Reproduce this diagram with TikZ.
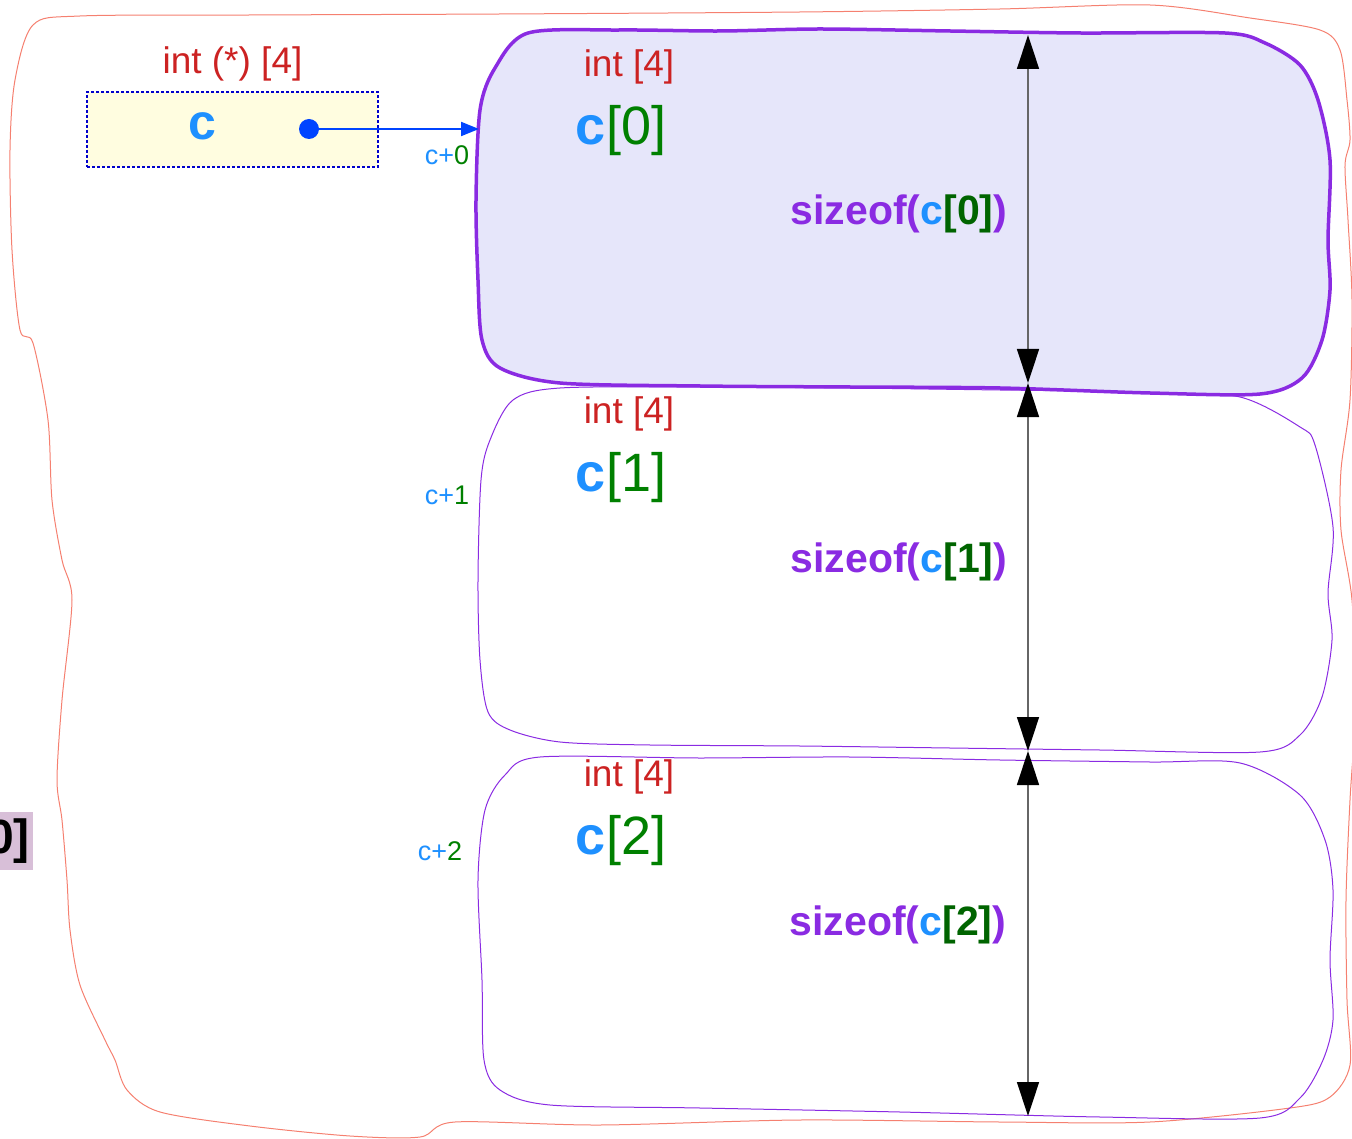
\documentclass[tikz,border=0pt]{standalone}
\usepackage{fontspec}
\setmainfont{Liberation Sans}
\usepackage{xcolor}
\usetikzlibrary{arrows.meta, positioning}

\definecolor{typered}{HTML}{CC2222}
\definecolor{ptrblue}{HTML}{1E90FF}
\definecolor{idxgreen}{HTML}{008000}
\definecolor{idxdark}{HTML}{006400}
\definecolor{rowpurple}{HTML}{8A2BE2}
\definecolor{rowfill}{HTML}{E6E6FA}
\definecolor{outerred}{HTML}{F58070}
\definecolor{boxyellow}{HTML}{FFFDE0}
\definecolor{dotblue}{HTML}{0044FF}
\definecolor{tagfill}{HTML}{D8BFD8}

\newcommand{\fsz}[1]{\fontsize{#1}{#1}\selectfont}
\newcommand{\elemtxt}[1]{\textcolor{ptrblue}{\textbf{c}}\textcolor{idxgreen}{[#1]}}
\newcommand{\offtxt}[1]{\textcolor{ptrblue}{c+}\textcolor{idxgreen}{#1}}
\newcommand{\sizetxt}[1]{\textcolor{rowpurple}{sizeof(}\textcolor{ptrblue}{c}\textcolor{idxdark}{[#1]}\textcolor{rowpurple}{)}}

\begin{document}
\begin{tikzpicture}[
  x=1pt, y=-1pt,
  typelbl/.style={text=typered, font=\fsz{37}, inner sep=0pt},
  elemlbl/.style={font=\fsz{54}, inner sep=0pt},
  sizelbl/.style={font=\bfseries\fsz{41}, inner sep=0pt},
  offlbl/.style={font=\fsz{27}, inner sep=0pt},
  ptrbox/.style={rectangle, draw=blue!80!black, fill=boxyellow, line width=2pt, dash pattern=on 3pt off 2pt, minimum width=291pt, minimum height=75pt},
  rowedge/.style={draw=rowpurple, line width=1pt},
  rowedgebold/.style={draw=rowpurple, fill=rowfill, line width=3.5pt},
  outeredge/.style={draw=outerred, line width=1pt},
  dimarrow/.style={draw=black!60, line width=1.5pt, {Triangle[length=34pt, width=22pt, color=black]}-{Triangle[length=34pt, width=22pt, color=black]}},
  ptrarrow/.style={-{Triangle[length=18pt, width=14pt]}, draw=dotblue, line width=2pt}
]
\useasboundingbox (0,0) rectangle (1352,1139);

% Outlines
\draw[outeredge] plot[smooth cycle, tension=0.5] coordinates {
  (33,25) (80,16) (250,15) (500,14) (800,12) (1000,9) (1150,5) (1250,18)
  (1320,30) (1340,50) (1347,100) (1350,140) (1345,165) (1348,220) (1352,300)
  (1350,400) (1341,470) (1341,530) (1352,600) (1356,700) (1350,800) (1346,900)
  (1347,1000) (1350,1065) (1330,1097) (1290,1108) (1150,1122) (1000,1122)
  (800,1120) (600,1125) (455,1122) (420,1137) (350,1136) (250,1126) (160,1112)
  (127,1090) (115,1060) (105,1040) (80,985) (70,930) (67,880) (62,820) (57,780)
  (62,700) (72,600) (62,560) (52,500) (48,420) (33,343) (20,330) (12,250)
  (10,150) (15,80)};
\draw[rowedge] plot[smooth cycle, tension=0.5] coordinates {
  (540,757) (700,758) (850,757) (1000,760) (1150,762) (1240,763) (1300,795)
  (1325,840) (1333,890) (1330,960) (1333,1020) (1323,1060) (1300,1098)
  (1260,1118) (1100,1117) (900,1112) (700,1108) (550,1105) (500,1090)
  (484,1060) (482,980) (478,880) (485,810) (505,775)};
\draw[rowedge] plot[smooth cycle, tension=0.5] coordinates {
  (560,388) (700,387) (850,388) (1000,390) (1150,392) (1240,397) (1300,427)
  (1315,445) (1333,527) (1328,593) (1332,640) (1322,697) (1300,735)
  (1260,752) (1100,750) (950,748) (800,746) (650,745) (560,742) (510,730)
  (488,712) (480,660) (478,580) (481,480) (490,440) (513,400)};
\draw[rowedgebold] plot[smooth cycle, tension=0.5] coordinates {
  (528,33) (620,30) (720,31) (820,29) (950,31) (1080,33) (1225,33) (1265,43)
  (1300,65) (1318,100) (1330,160) (1328,240) (1330,290) (1322,340) (1302,378)
  (1260,394) (1150,393) (1000,388) (850,387) (700,386) (560,383) (500,368)
  (482,340) (478,280) (476,200) (480,110) (495,68)};

% Nodes
\node[ptrbox] (cptr) at (232.5,129.5) {};
\node[typelbl, above=10pt of cptr] (cptrtype) {int (*) [4]};
\node[font=\bfseries\fsz{50}, text=ptrblue, inner sep=0pt] (cname) at (202,126) {c};
\node[circle, fill=dotblue, inner sep=0pt, minimum size=20pt] (cdot) at (309,129) {};

\node[typelbl] (type0) at (629,67) {int [4]};
\node[elemlbl] (elem0) at (621,131) {\elemtxt{0}};
\node[sizelbl] (size0) at (899,214) {\sizetxt{0}};
\node[offlbl] (off0) at (447,155) {\offtxt{0}};

\node[typelbl] (type1) at (629,414) {int [4]};
\node[elemlbl] (elem1) at (621,478) {\elemtxt{1}};
\node[sizelbl] (size1) at (899,562) {\sizetxt{1}};
\node[offlbl] (off1) at (447,495) {\offtxt{1}};

\node[typelbl] (type2) at (629,777) {int [4]};
\node[elemlbl] (elem2) at (621,841) {\elemtxt{2}};
\node[sizelbl] (size2) at (898,925) {\sizetxt{2}};
\node[offlbl] (off2) at (440,851) {\offtxt{2}};

\node[fill=tagfill, font=\bfseries\fsz{48}, inner xsep=3pt, minimum height=58pt, anchor=east] (tag) at (33,841) {0]};

% Dimension marks
\coordinate (row0top) at (1028,35);
\coordinate (row0bot) at (1028,383);
\coordinate (row1bot) at (1028,751);
\coordinate (row2bot) at (1028,1116);

% Arrows
\coordinate (row0in) at (479,129);
\draw[ptrarrow] (cdot.center) -- (row0in);
\draw[dimarrow] (row0top) -- (row0bot);
\draw[dimarrow] (row0bot) -- (row1bot);
\draw[dimarrow] (row1bot) -- (row2bot);

\end{tikzpicture}
\end{document}
